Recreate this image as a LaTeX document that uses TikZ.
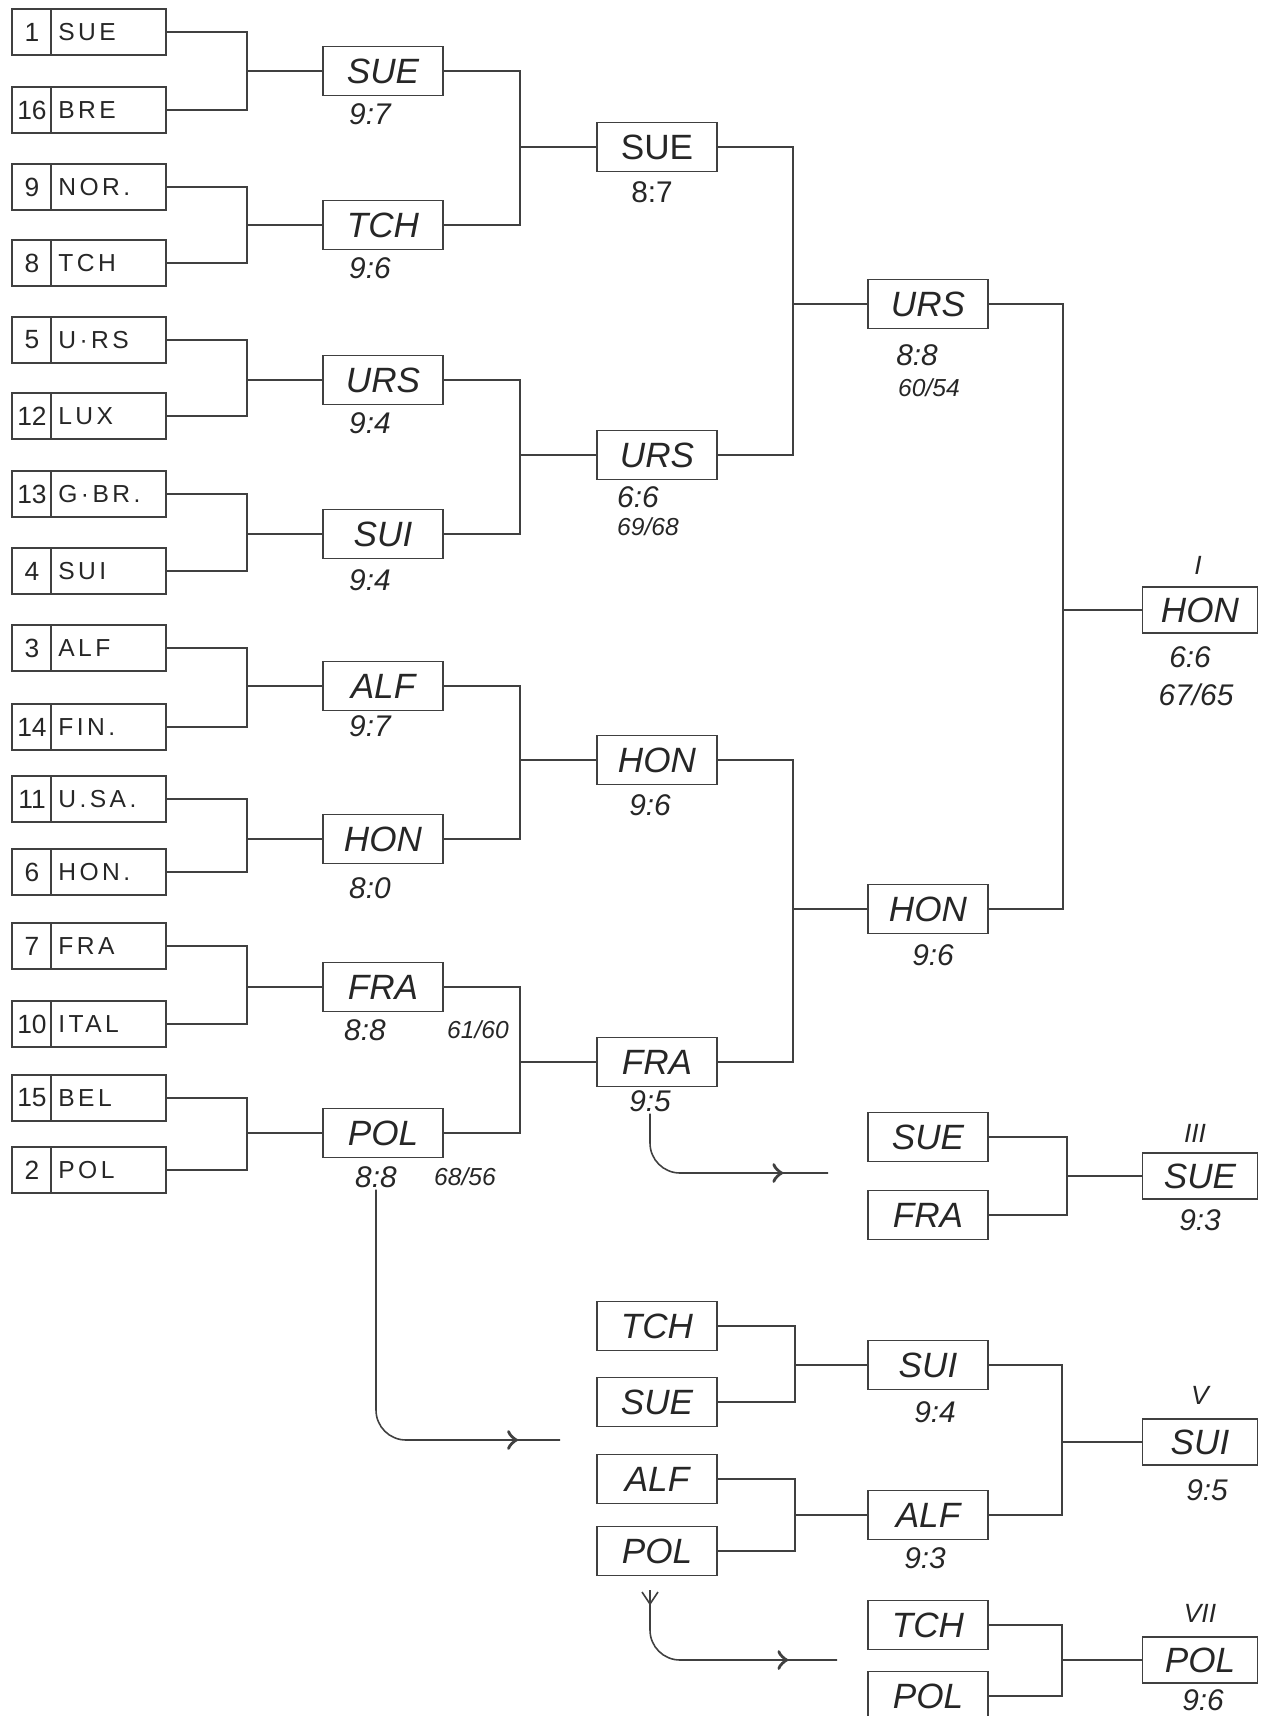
\documentclass[tikz,border=0pt]{standalone}
\usepackage{fontspec}
\setmainfont{Liberation Sans}
\newfontfamily\codefont[LetterSpace=14]{Liberation Sans}
\usetikzlibrary{calc,decorations.markings}
\begin{document}
\begin{tikzpicture}[x=0.02cm,y=-0.02cm,
  ln/.style={line width=0.9pt, draw=black!75},
  seedbx/.style={draw=black!75, line width=0.9pt, minimum width=3.08cm, minimum height=0.92cm, inner sep=0pt},
  seednum/.style={inner sep=0pt, text=black!85, font=\fontsize{15}{17}\selectfont},
  seedcode/.style={inner sep=0pt, text=black!85, font=\codefont\fontsize{14}{16}\selectfont},
  winbox/.style={draw=black!75, line width=0.9pt, minimum width=2.4cm, minimum height=0.98cm, inner sep=0pt, text=black!85, font=\fontsize{20}{22}\selectfont\itshape},
  finbox/.style={winbox, minimum width=2.3cm, minimum height=0.92cm},
  score/.style={inner sep=1pt, text=black!85, font=\fontsize{17}{19}\selectfont\itshape},
  frac/.style={inner sep=1pt, text=black!85, font=\fontsize{14}{16}\selectfont\itshape},
  roman/.style={inner sep=0pt, text=black!85, font=\fontsize{15}{17}\selectfont\itshape},
  midarrow/.style={postaction={decorate}, decoration={markings, mark=at position #1 with {\arrow[scale=2.2]{>}}}}
]
\useasboundingbox (0,0) rectangle (1272,1716);

\newcommand\seedentry[4]{%
  \node[seedbx] (#1) at (89,#2) {};
  \draw[ln] ($(#1.north west)+(40,0)$) -- ($(#1.south west)+(40,0)$);
  \node[seednum] (#1n) at (32,#2) {#3};
  \node[seedcode, anchor=west] (#1c) at (58,#2) {#4};
}
\newcommand\joinpair[4]{%
  \draw[ln] (#1.east) -- (#1.east -| #4) -- (#2.east -| #4) -- (#2.east);
  \draw[ln] (#4 |- #3.west) -- (#3.west);
}

% column x positions
\coordinate (X1) at (247,0);
\coordinate (X2) at (520,0);
\coordinate (X3) at (793,0);
\coordinate (X4) at (1063,0);
\coordinate (XK) at (1067,0);
\coordinate (XM) at (795,0);
\coordinate (XN) at (1062,0);

% seeds
\seedentry{s1}{32}{1}{SUE}
\seedentry{s16}{110}{16}{BRE}
\seedentry{s9}{187}{9}{NOR.}
\seedentry{s8}{263}{8}{TCH}
\seedentry{s5}{340}{5}{U·RS}
\seedentry{s12}{416}{12}{LUX}
\seedentry{s13}{494}{13}{G·BR.}
\seedentry{s4}{571}{4}{SUI}
\seedentry{s3}{648}{3}{ALF}
\seedentry{s14}{727}{14}{FIN.}
\seedentry{s11}{799}{11}{U.SA.}
\seedentry{s6}{872}{6}{HON.}
\seedentry{s7}{946}{7}{FRA}
\seedentry{s10}{1024}{10}{ITAL}
\seedentry{s15}{1098}{15}{BEL}
\seedentry{s2}{1170}{2}{POL}

% round 1
\node[winbox] (a1) at (383,71) {SUE};   \node[score] (a1s) at (370,114) {9:7};
\node[winbox] (a2) at (383,225) {TCH};  \node[score] (a2s) at (370,268) {9:6};
\node[winbox] (a3) at (383,380) {URS};  \node[score] (a3s) at (370,423) {9:4};
\node[winbox] (a4) at (383,534) {SUI};  \node[score] (a4s) at (370,580) {9:4};
\node[winbox] (a5) at (383,686) {ALF};  \node[score] (a5s) at (370,726) {9:7};
\node[winbox] (a6) at (383,839) {HON};  \node[score] (a6s) at (370,888) {8:0};
\node[winbox] (a7) at (383,987) {FRA};  \node[score] (a7s) at (365,1030) {8:8};
\node[frac] (a7f) at (478,1030) {61/60};
\node[winbox] (a8) at (383,1133) {POL}; \node[score] (a8s) at (376,1177) {8:8};
\node[frac] (a8f) at (465,1177) {68/56};

% round 2
\node[winbox, font=\fontsize{20}{22}\selectfont] (b1) at (657,147) {SUE};
\node[score, font=\fontsize{17}{19}\selectfont] (b1s) at (652,192) {8:7};
\node[winbox] (b2) at (657,455) {URS};  \node[score] (b2s) at (638,497) {6:6};
\node[frac] (b2f) at (648,527) {69/68};
\node[winbox] (b3) at (657,760) {HON};  \node[score] (b3s) at (650,805) {9:6};
\node[winbox] (b4) at (657,1062) {FRA}; \node[score] (b4s) at (650,1101) {9:5};

% round 3
\node[winbox] (c1) at (928,304) {URS};  \node[score] (c1s) at (917,355) {8:8};
\node[frac] (c1f) at (929,388) {60/54};
\node[winbox] (c2) at (928,909) {HON};  \node[score] (c2s) at (933,955) {9:6};

% final
\node[finbox] (f1) at (1200,610) {HON};
\node[roman] (f1r) at (1198,565) {I};
\node[score] (f1s) at (1190,657) {6:6};
\node[score] (f1f) at (1196,695) {67/65};

% third place
\node[winbox] (k1) at (928,1137) {SUE};
\node[winbox] (k2) at (928,1215) {FRA};
\node[finbox] (f3) at (1200,1176) {SUE};
\node[roman] (f3r) at (1195,1133) {III};
\node[score] (f3s) at (1200,1220) {9:3};

% fifth place
\node[winbox] (m1) at (657,1326) {TCH};
\node[winbox] (m2) at (657,1402) {SUE};
\node[winbox] (m3) at (657,1479) {ALF};
\node[winbox] (m4) at (657,1551) {POL};
\node[winbox] (n1) at (928,1365) {SUI}; \node[score] (n1s) at (935,1412) {9:4};
\node[winbox] (n2) at (928,1515) {ALF}; \node[score] (n2s) at (925,1558) {9:3};
\node[finbox] (f5) at (1200,1442) {SUI};
\node[roman] (f5r) at (1200,1395) {V};
\node[score] (f5s) at (1207,1490) {9:5};

% seventh place
\node[winbox] (p1) at (928,1625) {TCH};
\node[winbox] (p2) at (928,1696) {POL};
\node[finbox] (f7) at (1200,1660) {POL};
\node[roman] (f7r) at (1200,1613) {VII};
\node[score] (f7s) at (1203,1700) {9:6};

% brackets
\joinpair{s1}{s16}{a1}{X1}
\joinpair{s9}{s8}{a2}{X1}
\joinpair{s5}{s12}{a3}{X1}
\joinpair{s13}{s4}{a4}{X1}
\joinpair{s3}{s14}{a5}{X1}
\joinpair{s11}{s6}{a6}{X1}
\joinpair{s7}{s10}{a7}{X1}
\joinpair{s15}{s2}{a8}{X1}
\joinpair{a1}{a2}{b1}{X2}
\joinpair{a3}{a4}{b2}{X2}
\joinpair{a5}{a6}{b3}{X2}
\joinpair{a7}{a8}{b4}{X2}
\joinpair{b1}{b2}{c1}{X3}
\joinpair{b3}{b4}{c2}{X3}
\joinpair{c1}{c2}{f1}{X4}
\joinpair{k1}{k2}{f3}{XK}
\joinpair{m1}{m2}{n1}{XM}
\joinpair{m3}{m4}{n2}{XM}
\joinpair{n1}{n2}{f5}{XN}
\joinpair{p1}{p2}{f7}{XN}

% curved arrows to the consolation rounds
\coordinate (A1) at (828,1173);
\draw[ln, rounded corners=0.6cm, midarrow=0.8] (b4s.south) |- (A1);
\coordinate (B1) at (560,1440);
\draw[ln, rounded corners=0.6cm, midarrow=0.9] (a8s.south) |- (B1);
\coordinate (C0) at (650,1590);
\coordinate (C1) at (837,1660);
\draw[ln, rounded corners=0.6cm, midarrow=0.8] (C0) |- (C1);
\draw[ln] ($(C0)+(-8,2)$) -- ($(C0)+(0,14)$) -- ($(C0)+(8,2)$);
\end{tikzpicture}
\end{document}
